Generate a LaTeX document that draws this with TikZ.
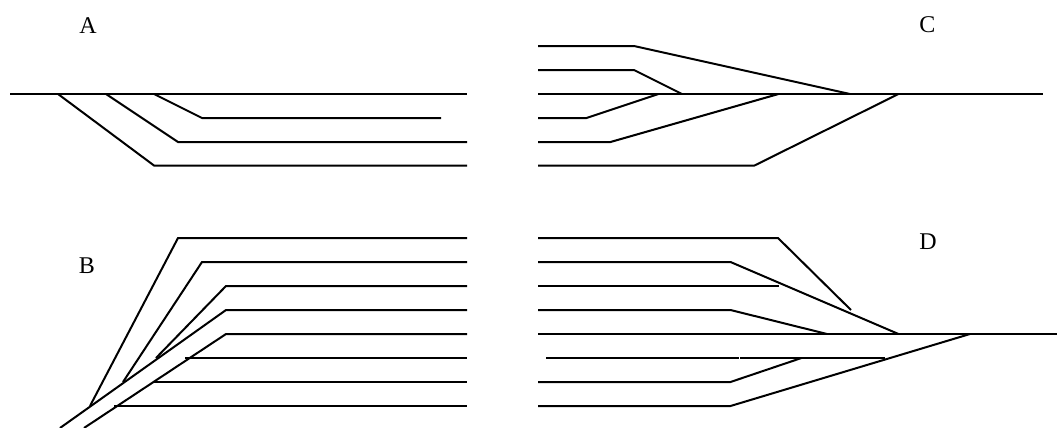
\documentclass[tikz,border=0pt]{standalone}
\usepackage{fontspec}
\setmainfont{Liberation Serif}
\tikzset{track/.style={line width=1pt,line join=miter},panel/.style={font=\fontsize{12}{14}\selectfont,inner sep=0pt}}

\begin{document}
\begin{tikzpicture}[x=0.5pt,y=-0.5pt]
  \useasboundingbox (0,0) rectangle (1057,428);
  % A
  \node[panel] (labelA) at (88,26) {A};
  \draw[track] (10,94) -- (467,94);
  \foreach \xa/\xb/\ya/\xc in {58/154/165.5/467,106/178/142/467,154/202/118/441} \draw[track] (\xa,94) -- (\xb,\ya) -- (\xc,\ya);
  % B
  \node[panel] (labelB) at (87,266) {B};
  \foreach \xa/\ya/\xb/\yb in {90/406/178/238,123/382/202/262,156/358/226/286,60/428/226/310,84/428/226/334} \draw[track] (\xa,\ya) -- (\xb,\yb) -- (467,\yb);
  \foreach \xa/\ya in {185/358,154/382,114/406} \draw[track] (\xa,\ya) -- (467,\ya);
  % C
  \node[panel] (labelC) at (927.5,25) {C};
  \draw[track] (538,94) -- (1043,94);
  \foreach \ya/\xb/\xc in {46/634/850,70/634/682,118/586.5/658.5,142/610.5/778.5,165.5/754.5/898.5} \draw[track] (538,\ya) -- (\xb,\ya) -- (\xc,94);
  % D
  \node[panel] (labelD) at (928,242) {D};
  \draw[track] (538,334) -- (1057,334);
  \draw[track] (538,238) -- (778,238) -- (851,310);
  \draw[track] (538,286) -- (779,286);
  \draw[track] (546,358) -- (739,358);
  \draw[track] (740,358) -- (885,358);
  \foreach \ya/\xc/\yc in {262/898.5/334,310/827/334,382/801.5/358,406/970/334} \draw[track] (538,\ya) -- (730.5,\ya) -- (\xc,\yc);
\end{tikzpicture}
\end{document}
